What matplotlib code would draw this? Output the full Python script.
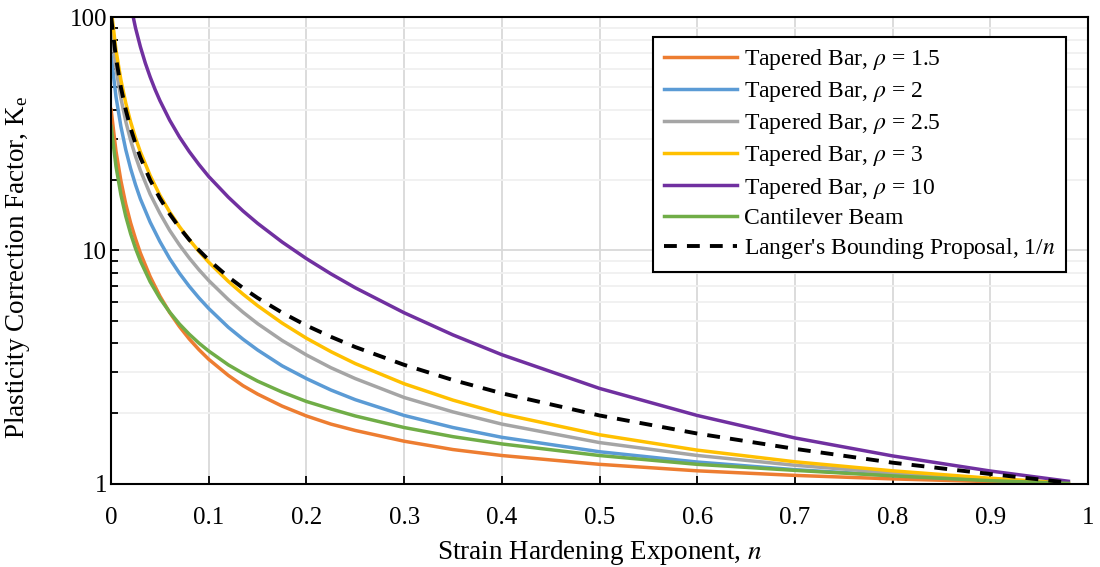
import matplotlib
matplotlib.use("Agg")
import matplotlib.pyplot as plt
from matplotlib.ticker import FixedLocator, NullFormatter

plt.rcParams['font.family'] = ['Liberation Serif', 'DejaVu Serif']
plt.rcParams['mathtext.fontset'] = 'stix'

# strain hardening exponent (x positions of the plotted points)
n_vals = [0, 0.005, 0.01, 0.015, 0.02, 0.025, 0.03, 0.04, 0.05, 0.06, 0.07, 0.08, 0.09,
          0.10, 0.12, 0.135, 0.15, 0.175, 0.20, 0.225, 0.25, 0.30, 0.35, 0.40, 0.50,
          0.60, 0.70, 0.80, 0.90, 0.98]

bar_15 = [40.1, 26.6, 19.9, 15.8, 13.1, 11.2, 9.73, 7.71, 6.36, 5.41, 4.71, 4.17, 3.75,
          3.41, 2.91, 2.63, 2.42, 2.15, 1.95, 1.80, 1.69, 1.52, 1.40, 1.32, 1.21,
          1.135, 1.085, 1.048, 1.020, 1.002]
bar_2 = [68.6, 45.5, 34.0, 27.0, 22.4, 19.1, 16.6, 13.2, 10.9, 9.21, 7.97, 7.01, 6.25,
         5.63, 4.68, 4.16, 3.74, 3.20, 2.82, 2.52, 2.29, 1.96, 1.74, 1.58, 1.37,
         1.238, 1.148, 1.084, 1.035, 1.004]
bar_25 = [90.7, 60.2, 44.9, 35.7, 29.6, 25.3, 22.0, 17.4, 14.4, 12.17, 10.54, 9.27, 8.25,
          7.42, 6.15, 5.43, 4.85, 4.11, 3.56, 3.14, 2.82, 2.34, 2.03, 1.80, 1.50,
          1.321, 1.199, 1.111, 1.046, 1.005]
bar_3 = [108.8, 72.1, 53.8, 42.8, 35.5, 30.3, 26.4, 20.9, 17.2, 14.6, 12.63, 11.11, 9.89,
         8.89, 7.36, 6.49, 5.79, 4.88, 4.20, 3.68, 3.27, 2.68, 2.28, 1.99, 1.62,
         1.392, 1.241, 1.135, 1.055, 1.006]
cantilever = [34.0, 22.9, 17.33, 14.0, 11.78, 10.19, 9.0, 7.33, 6.22, 5.43, 4.83, 4.37, 4.0,
              3.70, 3.23, 2.97, 2.75, 2.47, 2.25, 2.09, 1.95, 1.74, 1.59, 1.48, 1.32,
              1.21, 1.14, 1.08, 1.03, 1.003]
langer = [100, 66.7, 50, 40, 33.3, 28.6, 25, 20, 16.7, 14.3, 12.5, 11.1, 10,
          9.09, 7.69, 6.90, 6.25, 5.41, 4.76, 4.26, 3.85, 3.23, 2.78, 2.44, 1.96,
          1.64, 1.41, 1.23, 1.10, 1.01]

# rho = 10 curve has its own n values
n_10 = [0.02, 0.025, 0.03, 0.035, 0.04, 0.045, 0.05, 0.06, 0.07, 0.08, 0.09, 0.10, 0.12,
        0.135, 0.15, 0.175, 0.20, 0.225, 0.25, 0.30, 0.35, 0.40, 0.50, 0.60, 0.70,
        0.80, 0.90, 0.98]
bar_10 = [112.8, 89.8, 74.5, 63.5, 55.3, 48.9, 43.8, 36.1, 30.6, 26.5, 23.3, 20.7, 16.9,
          14.75, 13.05, 10.86, 9.21, 7.93, 6.91, 5.40, 4.34, 3.57, 2.56, 1.96, 1.57,
          1.315, 1.133, 1.024]

x_ticks = [0, 0.1, 0.2, 0.3, 0.4, 0.5, 0.6, 0.7, 0.8, 0.9, 1]
x_labels = ['0', '0.1', '0.2', '0.3', '0.4', '0.5', '0.6', '0.7', '0.8', '0.9', '1']

fig = plt.figure(figsize=(11, 5.67), dpi=100)
ax = fig.add_axes([0.101, 0.147, 0.888, 0.823])

lw = 2.5
ax.plot(n_vals, bar_15, color='#ED7D31', lw=lw, label=r'Tapered Bar, $\rho$ = 1.5')
ax.plot(n_vals, bar_2, color='#5B9BD5', lw=lw, label=r'Tapered Bar, $\rho$ = 2')
ax.plot(n_vals, bar_25, color='#A5A5A5', lw=lw, label=r'Tapered Bar, $\rho$ = 2.5')
ax.plot(n_vals, bar_3, color='#FFC000', lw=lw, label=r'Tapered Bar, $\rho$ = 3')
ax.plot(n_10, bar_10, color='#7030A0', lw=lw, label=r'Tapered Bar, $\rho$ = 10')
ax.plot(n_vals, cantilever, color='#70AD47', lw=lw, label='Cantilever Beam')
ax.plot(n_vals, langer, color='black', lw=2.8, dashes=(3.3, 2.6),
        label="Langer's Bounding Proposal, 1/$n$")

ax.set_yscale('log')
ax.set_xlim(0, 1)
ax.set_ylim(1, 100)

ax.set_xticks(x_ticks)
ax.set_xticklabels(x_labels)
ax.set_yticks([1, 10, 100])
ax.set_yticklabels(['1', '10', '100'])
ax.yaxis.set_minor_locator(FixedLocator([2, 3, 4, 5, 6, 7, 8, 9, 20, 30, 40, 50, 60, 70, 80, 90]))
ax.yaxis.set_minor_formatter(NullFormatter())

ax.grid(True, axis='x', which='major', color='#D9D9D9', lw=1.3)
ax.grid(True, axis='y', which='major', color='#D9D9D9', lw=1.3)
ax.grid(True, axis='y', which='minor', color='#F0F0F0', lw=1.3)
ax.set_axisbelow(True)

ax.tick_params(axis='both', which='major', direction='in', length=6, width=1.3,
               labelsize=18)
ax.tick_params(axis='x', which='major', pad=17)
ax.tick_params(axis='y', which='major', pad=3)
ax.tick_params(axis='y', which='minor', direction='in', length=5, width=1.3)
for s in ax.spines.values():
    s.set_linewidth(1.5)
    s.set_color('black')

ax.set_xlabel('Strain Hardening Exponent, $n$', fontsize=19.5, labelpad=6)
ax.set_ylabel(r'Plasticity Correction Factor, K$_\mathregular{e}$', fontsize=19.5)
ax.yaxis.set_label_coords(-0.081, 0.464)

leg = ax.legend(loc='upper right', bbox_to_anchor=(0.978, 0.958), borderaxespad=0,
                fontsize=17, fancybox=False, framealpha=1, edgecolor='black',
                handlelength=3.1, handletextpad=0.3, labelspacing=0.3, borderpad=0.45)
leg.get_frame().set_linewidth(1.5)

plt.savefig('out.png', dpi=100)
